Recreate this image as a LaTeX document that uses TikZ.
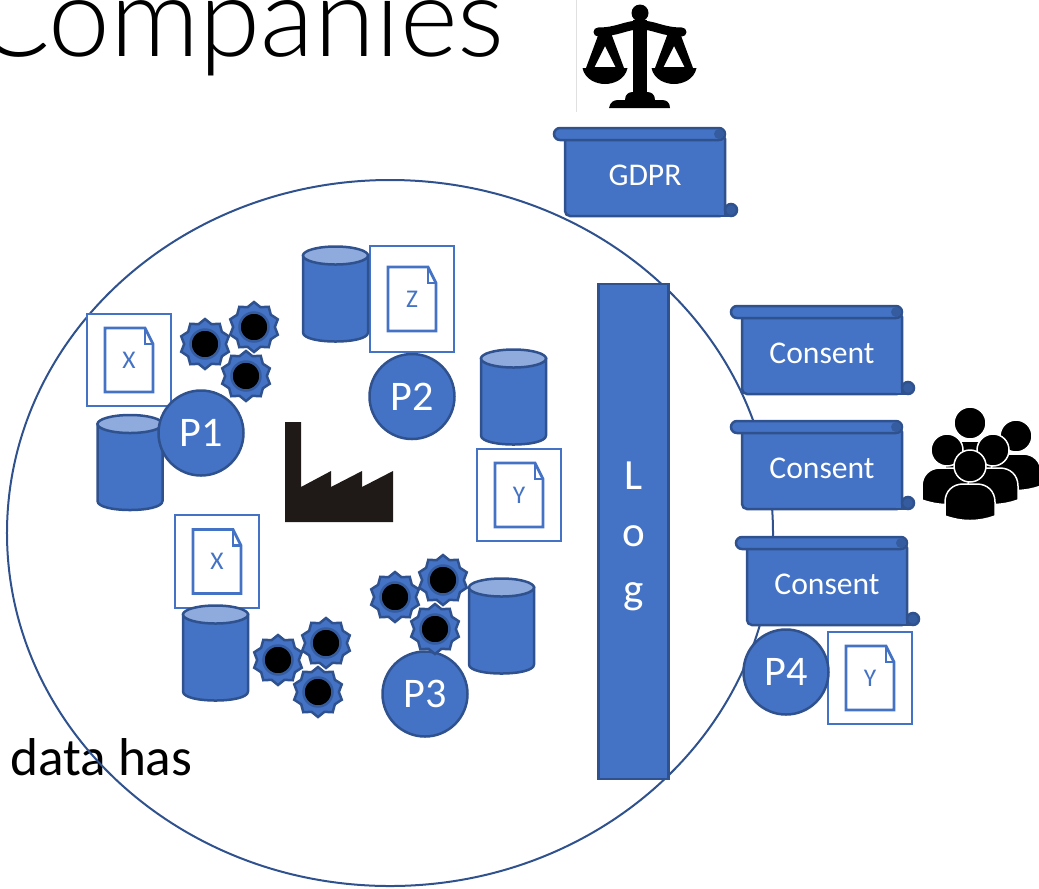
\documentclass[tikz,border=0pt]{standalone}
\usepackage{fontspec}
\setmainfont{Carlito}
\newfontfamily\titlefont{Lato Light}
\usepackage{tikz}
\usetikzlibrary{positioning}
\usetikzlibrary{shapes.geometric}
\definecolor{fillblue}{HTML}{4472C4}
\definecolor{edgeblue}{HTML}{2F528F}
\definecolor{topblue}{HTML}{8FAADC}
\definecolor{factoryblack}{HTML}{1F1A17}

\begin{document}
\begin{tikzpicture}
		[x=0.2mm, y=-0.2mm,
		bluefill/.style={fill=fillblue, draw=edgeblue, line width=0.5mm, outer sep=0pt},
		process/.style={bluefill, circle, minimum size=17mm, inner sep=0pt, text=white, font=\fontsize{24}{28}\selectfont},
		scrollbody/.style={bluefill, rectangle, rounded corners=1mm, minimum width=32mm, minimum height=16.4mm, inner sep=0pt, text=white, font=\fontsize{18}{22}\selectfont},
		scrollroll/.style={bluefill, rectangle, rounded corners=1.2mm, minimum width=34.2mm, minimum height=2.4mm, inner sep=0pt, anchor=east},
		scrollcurl/.style={bluefill, circle, minimum size=2.4mm, inner sep=0pt, fill=edgeblue!70!fillblue},
		burst/.style={bluefill, star, star points=10, star point ratio=1.2, minimum size=10mm, inner sep=0pt, path picture={\draw[fill=black, draw=edgeblue!70!fillblue, line width=0.5mm] (path picture bounding box.center) circle (2.9mm);}},
		docbox/.style={draw=fillblue, fill=white, line width=0.55mm, rectangle, minimum width=16.8mm, inner sep=0pt, outer sep=0pt, text=fillblue, font=\fontsize{14.5}{16}\selectfont},
		pageline/.style={draw=fillblue, line width=0.55mm, line join=miter},
		pics/database/.style={code={
			\filldraw[bluefill] (-32.5,-38.5) -- (-32.5,38.5) .. controls (-32.5,50.5) and (32.5,50.5) .. (32.5,38.5) -- (32.5,-38.5) -- cycle;
			\filldraw[bluefill, fill=topblue] (0,-38.5) ellipse [x radius=32.5, y radius=9];
		}},
		pics/person/.style={code={
			\fill[black, draw=white, line width=0.3mm] (-25,50) -- (-25,36) .. controls (-25,25) and (-17,18) .. (-7,18) -- (7,18) .. controls (17,18) and (25,25) .. (25,36) -- (25,50) .. controls (8,56) and (-8,56) .. (-25,50) -- cycle;
			\fill[black, draw=white, line width=0.3mm] (0,0) circle (16);
		}}]
		\useasboundingbox (0,0) rectangle (1039,888);

		\node[anchor=base east, inner sep=0pt, font=\titlefont\fontsize{63}{70}\selectfont] (title) at (505,56) {Companies};
		\node[anchor=base west, inner sep=0pt, font=\fontsize{30.3}{34}\selectfont] (datahas) at (10,775) {data has};

		\node[ellipse, draw=edgeblue, line width=0.4mm, minimum width=153.2mm, minimum height=141.2mm] (firm) at (390,533) {};
		\draw[black!12, line width=0.2mm] (576,0) -- (576,112);

		% law
		\fill[black] (640,13) circle (8.5);
		\draw[black, line width=1.8mm, line cap=round] (598,32) .. controls (618,32) and (625,25) .. (640,25) .. controls (655,25) and (662,32) .. (682,32);
		\fill[black] (633,20) rectangle (647,100);
		\fill[black] (625,100) .. controls (625,94) and (629,92) .. (633,92) -- (647,92) .. controls (651,92) and (655,94) .. (655,100) -- cycle;
		\fill[black] (609,108) .. controls (610,102) and (614,100) .. (618,100) -- (662,100) .. controls (666,100) and (670,102) .. (670,108) -- cycle;
		\foreach \panx in {605,674} {
			\fill[black, even odd rule] (\panx-6,33) -- (\panx+6,33) -- (\panx+19,68) -- (\panx-19,68) -- cycle (\panx,46) -- (\panx+10.5,67) -- (\panx-10.5,67) -- cycle;
			\fill[black] (\panx-22.5,68) -- (\panx+22.5,68) .. controls (\panx+20,80) and (\panx+8,84) .. (\panx,84) .. controls (\panx-8,84) and (\panx-20,80) .. (\panx-22.5,68) -- cycle;
		}

		\node[scrollbody] (gdpr) at (645,175) {GDPR};
		\node[scrollbody] (consent1) at (822,353) {Consent};
		\node[scrollbody, below=6.6mm of consent1] (consent2) {Consent};
		\node[scrollbody, below=6.8mm of consent2, xshift=1mm] (consent3) {Consent};
		\foreach \s in {gdpr,consent1,consent2,consent3} {
			\fill[fillblue] ([xshift=-1.2mm, yshift=0mm]\s.south east) rectangle ([xshift=1.2mm, yshift=1.4mm]\s.south east);
			\draw[edgeblue, line width=0.5mm] ([xshift=-1.4mm]\s.south east) -- ([xshift=1.2mm]\s.south east);
			\draw[edgeblue, line width=0.5mm] ([yshift=1.4mm]\s.south east) -- (\s.south east);
			\node[scrollcurl] (\s curl) at ([xshift=1.2mm, yshift=1.2mm]\s.south east) {};
			\node[scrollroll] (\s roll) at (\s.north east) {};
			\fill[edgeblue!70!fillblue] ([xshift=-1.2mm]\s.north east) circle (1mm);
		}

		\node[bluefill, rectangle, minimum width=14mm, minimum height=99mm, inner sep=0pt, label={[text=white, align=center, font=\fontsize{24.5}{32.3}\selectfont, yshift=-1mm]center:L\\o\\g}] (log) at (633.5,531.5) {};

		\node[docbox, minimum height=18.4mm] (docx1) at (129,360) {X};
		\node[docbox, minimum height=21.2mm] (docz) at (412,299) {Z};
		\node[docbox, minimum height=18.4mm] (docy1) at (519,495) {Y};
		\node[docbox, minimum height=18.6mm] (docx2) at (217,561.5) {X};
		\node[docbox, minimum height=18.4mm] (docy2) at (870,678) {Y};
		\foreach \d in {docx1,docz,docy1,docx2,docy2} {
			\draw[pageline] ([xshift=-4.8mm, yshift=6.4mm]\d.center) -- ([xshift=3.2mm, yshift=6.4mm]\d.center) -- ([xshift=4.8mm, yshift=3.2mm]\d.center) -- ([xshift=4.8mm, yshift=-6.4mm]\d.center) -- ([xshift=-4.8mm, yshift=-6.4mm]\d.center) -- cycle;
			\draw[pageline] ([xshift=3.2mm, yshift=6.4mm]\d.center) -- ([xshift=3.2mm, yshift=3.2mm]\d.center) -- ([xshift=4.8mm, yshift=3.2mm]\d.center);
		}

		\pic (db1) at (130,462.5) {database};
		\pic (db2) at (335.5,294) {database};
		\pic (db3) at (513.5,397) {database};
		\pic (db4) at (215.5,653) {database};
		\pic (db5) at (501.5,626) {database};

		\node[process] (p1) at (201,433) {P1};
		\node[process, below=0.4mm of docz] (p2) {P2};
		\node[process] (p3) at (425,694) {P3};
		\node[process] (p4) at (786,672) {P4};

		\node[burst] (b1) at (205,344) {};
		\node[burst] (b2) at (254,327) {};
		\node[burst] (b3) at (246,376) {};
		\node[burst] (b4) at (278,660) {};
		\node[burst] (b5) at (326,643) {};
		\node[burst] (b6) at (318,692) {};
		\node[burst] (b7) at (395,597) {};
		\node[burst] (b8) at (443,580) {};
		\node[burst] (b9) at (435,629) {};

		% factory
		\fill[factoryblack] (285,422) -- (301,422) -- (301,487) -- (331,471) -- (331,487) -- (362,471) -- (362,487) -- (393,471) -- (393,522) -- (285,522) -- cycle;

		% people
		\pic at (970,423) {person};
		\pic at (1016,436) {person};
		\pic at (947,450) {person};
		\pic at (993,450) {person};
		\pic at (970,466) {person};
	\end{tikzpicture}
\end{document}
